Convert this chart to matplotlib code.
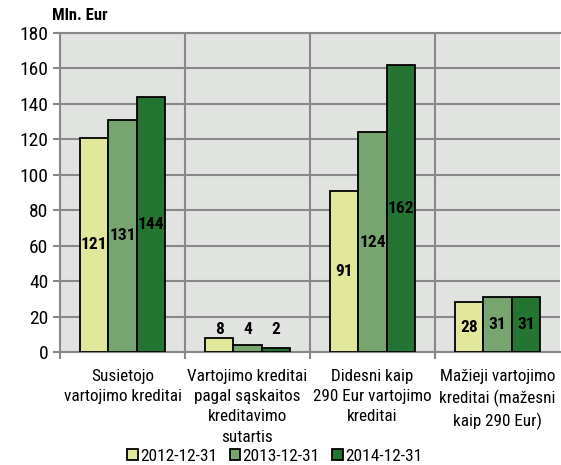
import numpy as np
import matplotlib.pyplot as plt

plt.rcParams['font.family'] = ['Roboto Condensed', 'Liberation Sans', 'DejaVu Sans']

categories = ['Susietojo\nvartojimo kreditai',
              'Vartojimo kreditai\npagal sąskaitos\nkreditavimo\nsutartis',
              'Didesni kaip\n290 Eur vartojimo\nkreditai',
              'Mažieji vartojimo\nkreditai (mažesni\nkaip 290 Eur)']
series = ['2012-12-31', '2013-12-31', '2014-12-31']
v2012 = [121, 8, 91, 28]
v2013 = [131, 4, 124, 31]
v2014 = [144, 2, 162, 31]
colors = ['#e1e89b', '#77a46f', '#247531']

fig = plt.figure(figsize=(5.61, 4.65), dpi=100)
ax = fig.add_axes([60 / 561, 113 / 465, 500 / 561, 319 / 465])
ax.set_facecolor('#e0e3e0')

x = np.arange(len(categories))
w = 0.226
for i, (vals, c, lab) in enumerate(zip([v2012, v2013, v2014], colors, series)):
    bars = ax.bar(x + (i - 1) * w, vals, w, color=c, edgecolor='black',
                  linewidth=1.3, label=lab, zorder=3)
    for j, (b, v) in enumerate(zip(bars, vals)):
        # small bars of the 2nd group get the label above them, others in the middle
        y = 12.5 if j == 1 else v / 2
        ax.text(b.get_x() + b.get_width() / 2, y, str(v), ha='center', va='center',
                fontsize=12.5, fontweight='bold', zorder=4)

ax.set_xlim(-0.5, 3.5)
ax.set_ylim(0, 180)
ax.set_yticks(np.arange(0, 181, 20))
ax.set_xticks(x)
ax.set_xticklabels(categories, fontsize=12.3, linespacing=1.45)
ax.set_xticks(np.arange(-0.5, 3.5, 1), minor=True)
ax.tick_params(axis='x', which='major', length=0, pad=12)
ax.tick_params(axis='x', which='minor', length=5, color='#888888', width=1.5)
ax.tick_params(axis='y', length=5, color='#888888', width=1.5, labelsize=14)

ax.grid(axis='y', color='#888888', linewidth=1.5, zorder=0)
ax.grid(axis='x', which='minor', color='#888888', linewidth=1.5, zorder=0)
ax.set_axisbelow(True)
for s in ax.spines.values():
    s.set_color('#888888')
    s.set_linewidth(1.5)
ax.spines['right'].set_visible(False)

fig.text(52 / 561, 1 - 15 / 465, 'Mln. Eur', fontsize=12, fontweight='bold',
         ha='left', va='center')

fig.legend(loc='center', bbox_to_anchor=(0.49, 1 - 456 / 465), ncol=3, frameon=False,
           fontsize=12.5, handlelength=0.6, handleheight=0.6, handletextpad=0.15,
           columnspacing=0.7, borderaxespad=0)

fig.savefig('out.png', dpi=100)
